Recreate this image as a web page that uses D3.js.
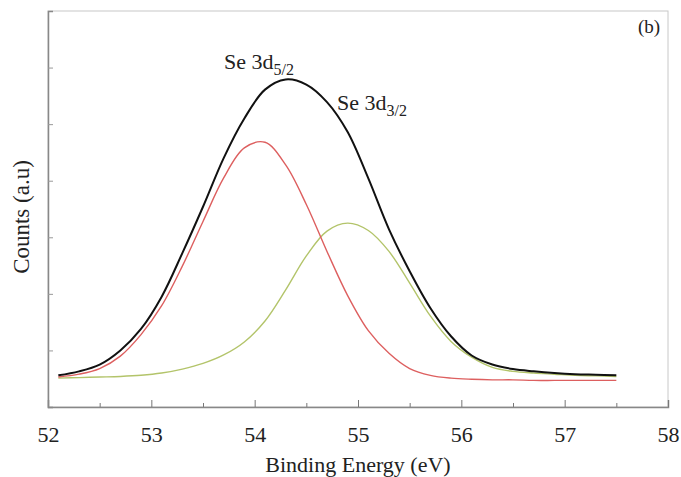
<!DOCTYPE html>
<html>
<head>
<meta charset="utf-8">
<script src="https://cdn.jsdelivr.net/npm/d3@7"></script>
<style>
  body { margin: 0; background: #fff; }
</style>
</head>
<body>
<svg id="viz" width="681" height="477"></svg>
<script>
const FONT = "'Liberation Serif', 'Times New Roman', Times, 'DejaVu Serif', serif";

// binding energy grid (eV) and intensities (a.u.)
const energy = [52.1, 52.3, 52.5, 52.7, 52.9, 53.1, 53.3, 53.5, 53.7, 53.9, 54.1, 54.3, 54.5, 54.7,
  54.9, 55.1, 55.3, 55.5, 55.7, 55.9, 56.1, 56.3, 56.5, 56.7, 56.9, 57.1, 57.3, 57.5];
const total = [0.56, 0.63, 0.75, 1.00, 1.38, 1.95, 2.72, 3.54, 4.40, 5.10, 5.61, 5.79, 5.70, 5.39,
  4.86, 4.04, 3.14, 2.40, 1.75, 1.25, 0.91, 0.75, 0.67, 0.63, 0.60, 0.58, 0.57, 0.56];
const se52 = [0.53, 0.58, 0.68, 0.90, 1.28, 1.79, 2.49, 3.28, 4.05, 4.58, 4.68, 4.28, 3.58, 2.75,
  1.97, 1.35, 0.95, 0.68, 0.56, 0.51, 0.49, 0.48, 0.48, 0.47, 0.47, 0.47, 0.47, 0.47];
const se32 = [0.51, 0.52, 0.53, 0.54, 0.56, 0.60, 0.67, 0.77, 0.92, 1.15, 1.52, 2.07, 2.67, 3.11,
  3.25, 3.12, 2.75, 2.19, 1.61, 1.16, 0.88, 0.70, 0.63, 0.60, 0.58, 0.56, 0.55, 0.54];

const xTicks = [52, 53, 54, 55, 56, 57, 58];
const xMinor = [52.5, 53.5, 54.5, 55.5, 56.5, 57.5];
const yTicks = [1, 2, 3, 4, 5, 6];

const svg = d3.select("#viz");
const margin = { top: 11, right: 13, bottom: 70, left: 48 };
const width = +svg.attr("width");
const height = +svg.attr("height");

const x = d3.scaleLinear().domain([52, 58]).range([margin.left, width - margin.right]);
const y = d3.scaleLinear().domain([0, 7]).range([height - margin.bottom, margin.top]);

// frame (light top/right)
svg.append("rect")
  .attr("x", margin.left).attr("y", margin.top)
  .attr("width", x(58) - x(52)).attr("height", y(0) - y(7))
  .attr("fill", "none").attr("stroke", "#c8c8c8").attr("stroke-width", 1);

// x axis, ticks pointing inward
svg.append("g")
  .attr("transform", `translate(0,${y(0)})`)
  .call(d3.axisBottom(x).tickValues(xMinor).tickSize(-4).tickFormat(""))
  .call(g => g.select(".domain").remove())
  .call(g => g.selectAll("line").attr("stroke", "#777"));

const xAxis = svg.append("g")
  .attr("transform", `translate(0,${y(0)})`)
  .call(d3.axisBottom(x).tickValues(xTicks).tickSize(-7).tickPadding(19).tickFormat(d3.format("d")));
xAxis.select(".domain").attr("stroke", "#888").attr("stroke-width", 1.5);
xAxis.selectAll("line").attr("stroke", "#777");
xAxis.selectAll("text").attr("font-size", 22).style("font-family", FONT).attr("fill", "#222");

// y axis, no labels
const yAxis = svg.append("g")
  .attr("transform", `translate(${x(52)},0)`)
  .call(d3.axisLeft(y).tickValues(yTicks).tickSize(-5).tickFormat(""));
yAxis.select(".domain").attr("stroke", "#888").attr("stroke-width", 1.5);
yAxis.selectAll("line").attr("stroke", "#999");

const line = series => d3.line()
  .x((d, i) => x(energy[i]))
  .y(d => y(d))
  .curve(d3.curveCatmullRom.alpha(0.5))(series);

svg.append("path").attr("d", line(se32))
  .attr("fill", "none").attr("stroke", "#b3c46a").attr("stroke-width", 1.4);
svg.append("path").attr("d", line(se52))
  .attr("fill", "none").attr("stroke", "#dd5f5f").attr("stroke-width", 1.4);
svg.append("path").attr("d", line(total))
  .attr("fill", "none").attr("stroke", "#111").attr("stroke-width", 2);

function addText(px, py, size, str) {
  return svg.append("text").attr("x", px).attr("y", py)
    .attr("font-size", size).style("font-family", FONT).attr("fill", "#222").text(str);
}

// peak labels
function peakLabel(px, py, sub) {
  const t = addText(px, py, 22, null);
  t.append("tspan").text("Se 3d");
  t.append("tspan").attr("dy", 6).attr("font-size", 16).text(sub);
}
peakLabel(224, 69, "5/2");
peakLabel(337, 110, "3/2");

addText(638, 33, 19, "(b)");

addText((x(52) + x(58)) / 2, 472, 22, "Binding Energy (eV)").attr("text-anchor", "middle");

addText(0, 0, 23, "Counts (a.u)")
  .attr("transform", `translate(29,${(y(0) + y(7)) / 2 + 8}) rotate(-90)`)
  .attr("text-anchor", "middle");
</script>
</body>
</html>
